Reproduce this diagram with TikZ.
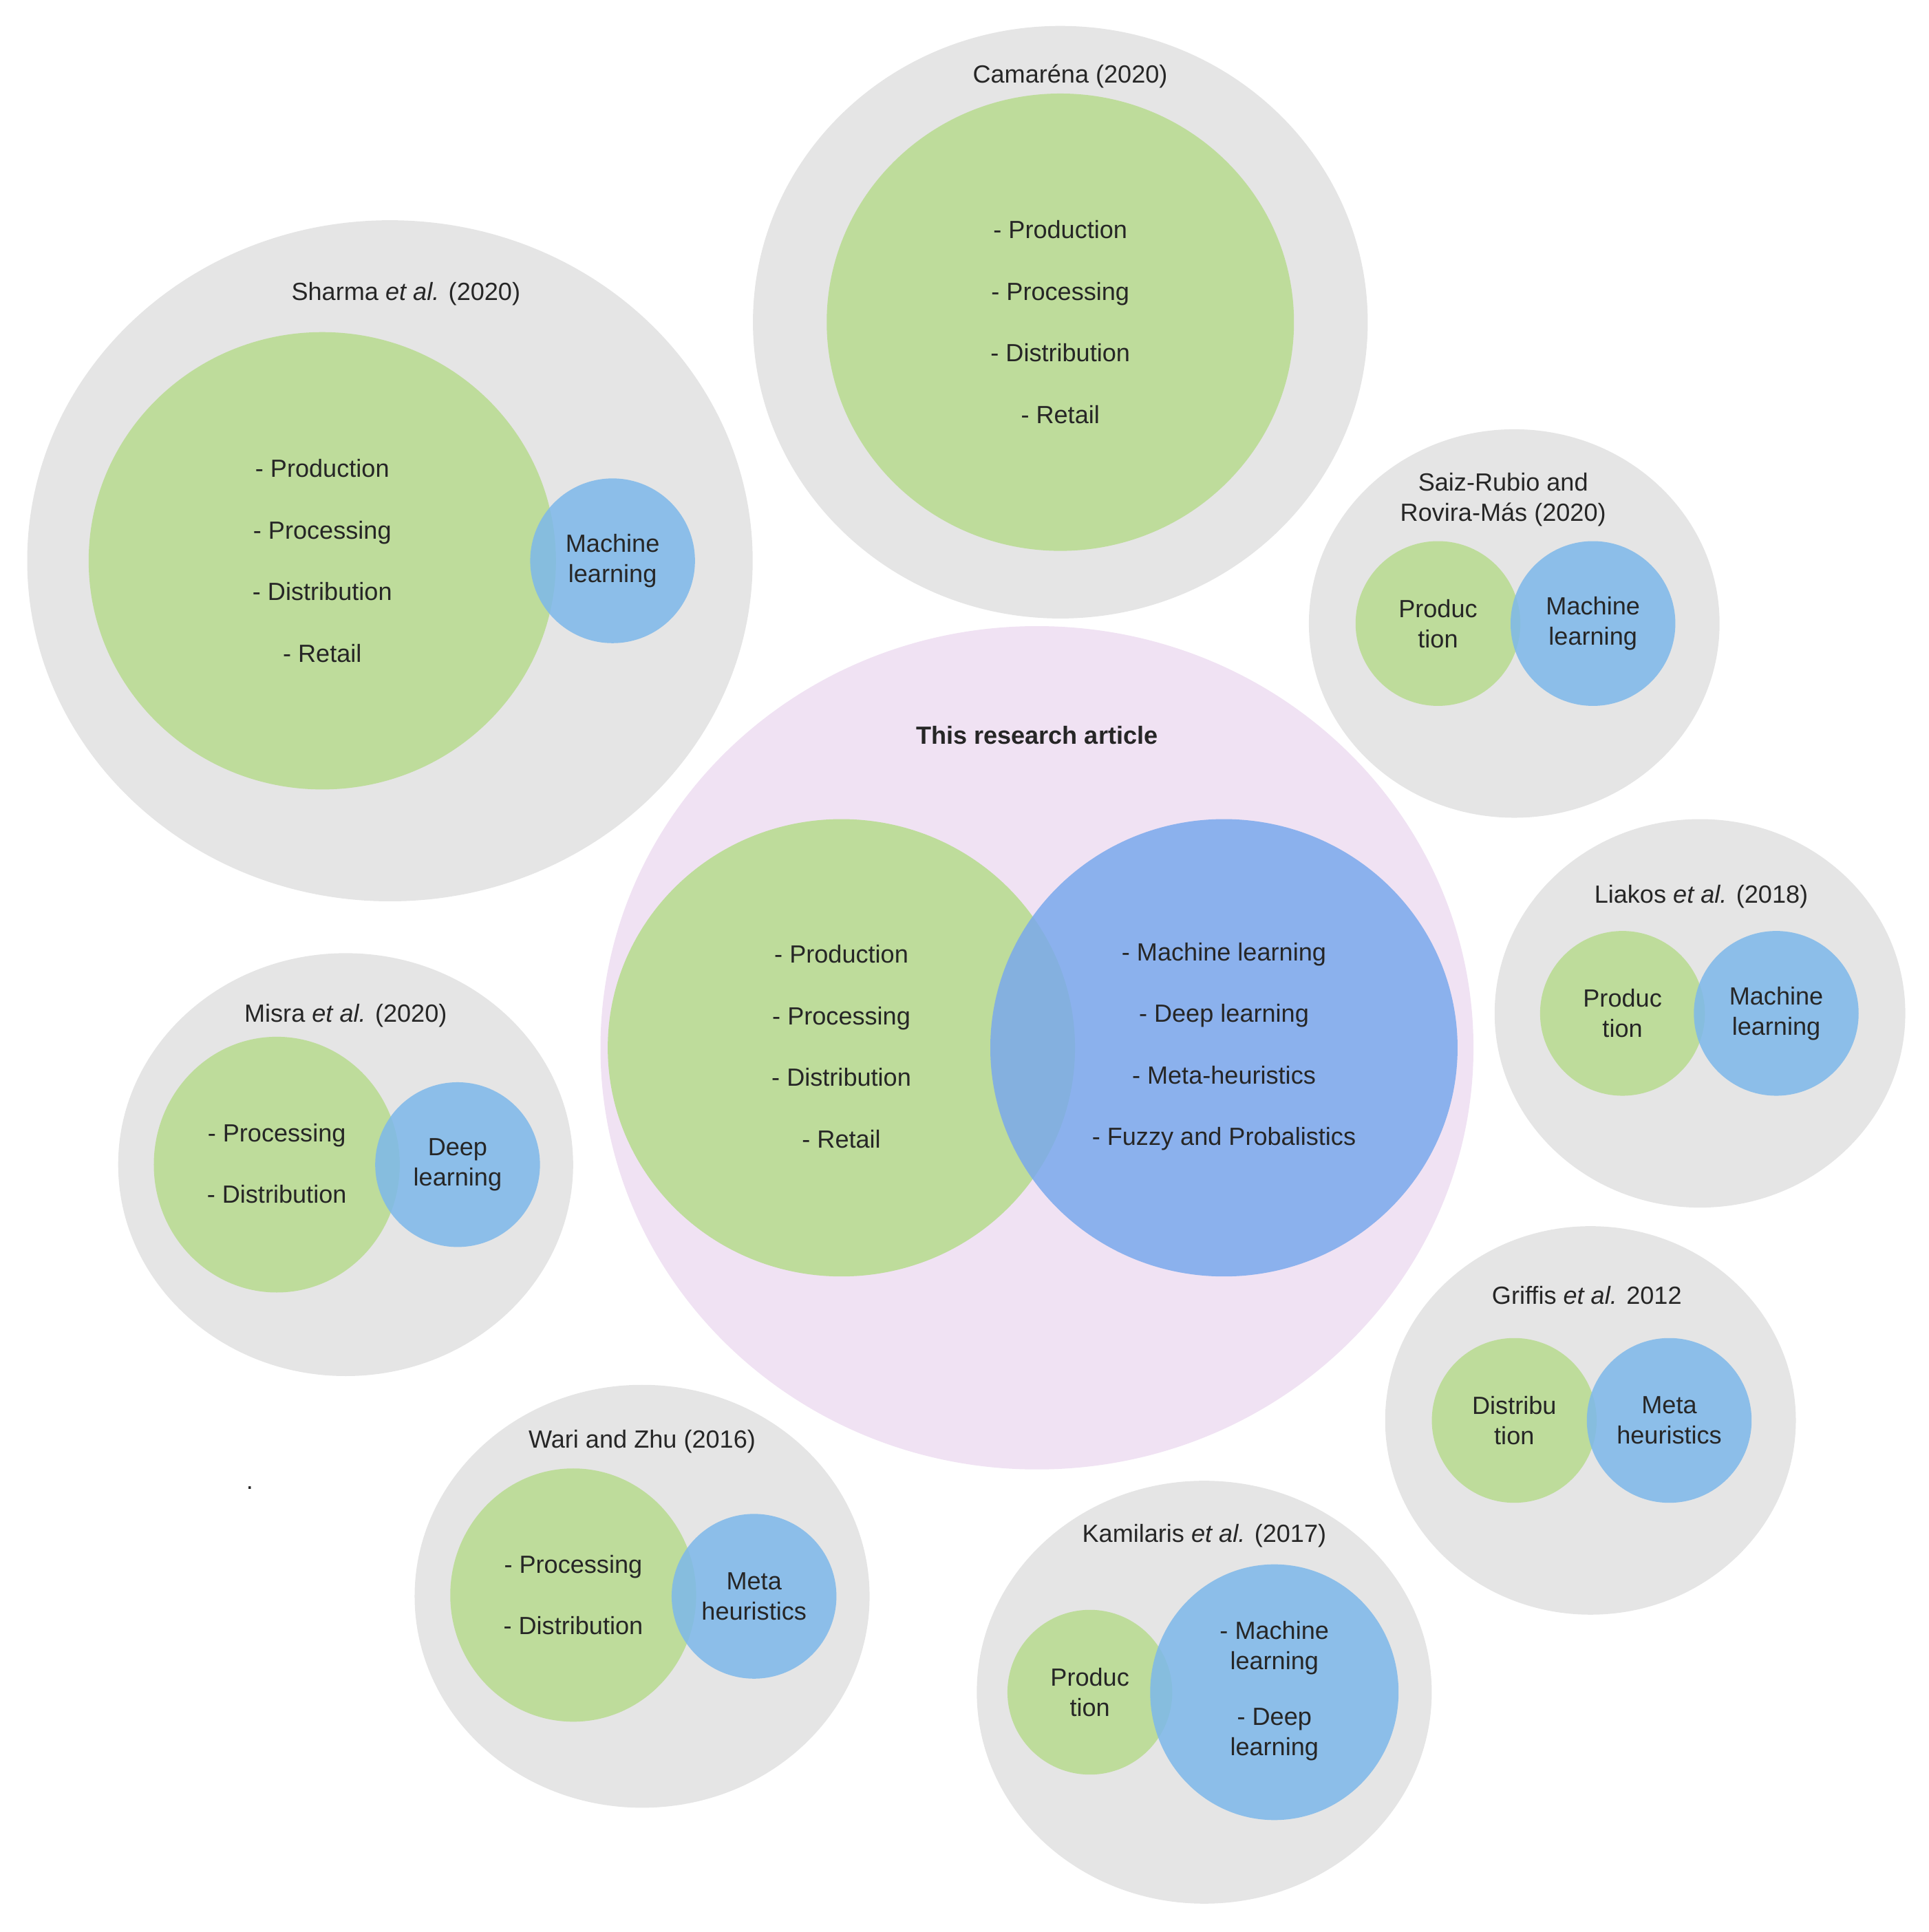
\documentclass[tikz,border=0pt]{standalone}
\usepackage{fontspec}
\setmainfont{Liberation Sans}
\usetikzlibrary{shapes.geometric}
\definecolor{gr}{HTML}{E5E5E5}
\definecolor{gn}{HTML}{BEDC9B}
\definecolor{bl}{HTML}{7DB8EA}
\definecolor{bl2}{HTML}{7AA9EC}
\definecolor{pk}{HTML}{F0E2F3}
\newcommand{\E}[6]{\node[ell,#6,minimum width=#4*0.04cm,minimum height=#5*0.04cm] (#1) at (#2,#3) {};}
\begin{document}
\begin{tikzpicture}[x=0.02cm,y=-0.02cm,
 ell/.style={ellipse,draw=none,inner sep=0pt},
 g/.style={fill=gr}, n/.style={fill=gn}, b/.style={fill=bl,fill opacity=0.85},
 t/.style={align=center,font=\fontsize{11.5}{14}\selectfont,text=black!85,inner sep=0pt},
 lst/.style={t,font=\fontsize{11.5}{28.5}\selectfont}]
\useasboundingbox (0,0) rectangle (1568,1571);
% Camarena
\E{cg}{862}{262}{250}{241}{g}
\E{cn}{862}{262}{190}{186}{n}
\node[t] (ct) at (870,62) {Camaréna (2020)};
\node[lst] (cl) at (862,262) {- Production\\- Processing\\- Distribution\\- Retail};
% Sharma
\E{sg}{317}{456}{295}{277}{g}
\E{sn}{262}{456}{190}{186}{n}
\E{sb}{498}{456}{67}{67}{b}
\node[t] (st) at (330,239) {Sharma \textit{et al.} (2020)};
\node[lst] (sl) at (262,456) {- Production\\- Processing\\- Distribution\\- Retail};
\node[t] (sm) at (498,456) {Machine\\learning};
% Saiz
\E{zg}{1231}{507}{167}{158}{g}
\E{zn}{1169}{507}{67}{67}{n}
\E{zb}{1295}{507}{67}{67}{b}
\node[t] (zt) at (1222,406) {Saiz-Rubio and\\Rovira-Más (2020)};
\node[t] (zl) at (1169,507) {Produc\\tion};
\node[t] (zm) at (1295,507) {Machine\\learning};
% center
\E{pg}{843}{852}{355}{343}{fill=pk}
\E{pn}{684}{852}{190}{186}{fill=gn}
\E{pb}{995}{852}{190}{186}{fill=bl2,fill opacity=0.85}
\node[t,font=\bfseries\fontsize{11.5}{14}\selectfont] (pt) at (843,598) {This research article};
\node[lst] (pl) at (684,851) {- Production\\- Processing\\- Distribution\\- Retail};
\node[lst] (pm) at (995,851) {- Machine learning\\- Deep learning\\- Meta-heuristics\\- Fuzzy and Probalistics};
% Liakos
\E{lg}{1382}{824}{167}{158}{g}
\E{ln}{1319}{824}{67}{67}{n}
\E{lb}{1444}{824}{67}{67}{b}
\node[t] (lt) at (1383,729) {Liakos \textit{et al.} (2018)};
\node[t] (ll) at (1319,824) {Produc\\tion};
\node[t] (lm) at (1444,824) {Machine\\learning};
% Misra
\E{mg}{281}{947}{185}{172}{g}
\E{mn}{225}{947}{100}{104}{n}
\E{mb}{372}{947}{67}{67}{b}
\node[t] (mt) at (281,826) {Misra \textit{et al.} (2020)};
\node[lst] (ml) at (225,946) {- Processing\\- Distribution};
\node[t] (mm) at (372,947) {Deep\\learning};
% Griffis
\E{fg}{1293}{1155}{167}{158}{g}
\E{fn}{1231}{1155}{67}{67}{n}
\E{fb}{1357}{1155}{67}{67}{b}
\node[t] (ft) at (1290,1053) {Griffis \textit{et al.} 2012};
\node[t] (fl) at (1231,1155) {Distribu\\tion};
\node[t] (fm) at (1357,1155) {Meta\\heuristics};
% Wari
\E{wg}{522}{1298}{185}{172}{g}
\E{wn}{466}{1297}{100}{103}{n}
\E{wb}{613}{1298}{67}{67}{b}
\node[t] (wt) at (522,1172) {Wari and Zhu (2016)};
\node[lst] (wl) at (466,1297) {- Processing\\- Distribution};
\node[t] (wm) at (613,1298) {Meta\\heuristics};
% Kamilaris
\E{kg}{979}{1376}{185}{172}{g}
\E{kn}{886}{1376}{67}{67}{n}
\E{kb}{1036}{1376}{101}{104}{b}
\node[t] (kt) at (979,1249) {Kamilaris \textit{et al.} (2017)};
\node[t] (kl) at (886,1376) {Produc\\tion};
\node[t] (km) at (1036,1375) {- Machine\\learning\\[12pt]- Deep\\learning};
\node[t] (dot) at (203,1210) {.};
\end{tikzpicture}
\end{document}
